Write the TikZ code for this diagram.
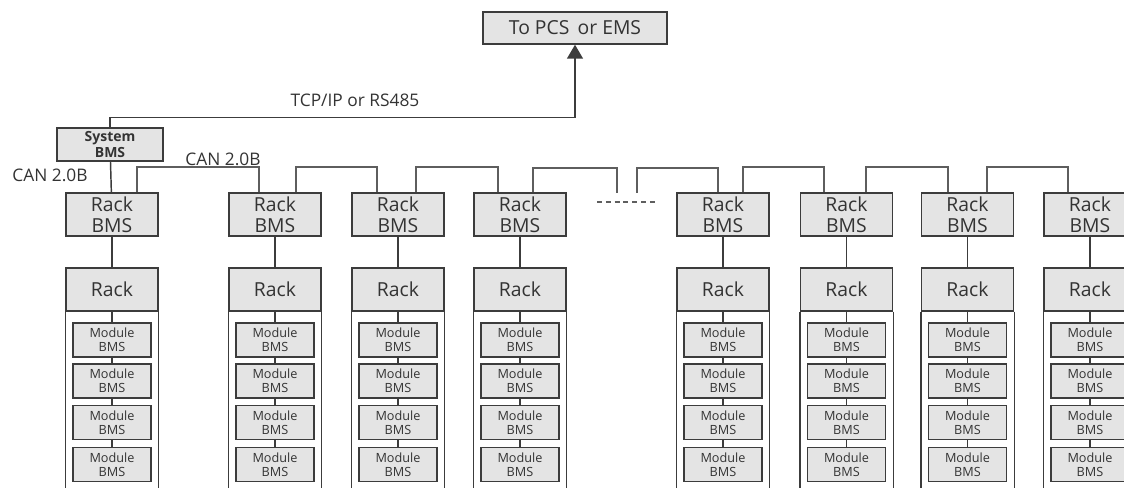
\documentclass[tikz,border=0pt]{standalone}
\usepackage{fontspec}
\setmainfont{Open Sans}
\usetikzlibrary{calc,arrows.meta}
\definecolor{boxfill}{HTML}{E4E4E4}
\definecolor{edge}{HTML}{3C3C3C}
\definecolor{wirecol}{HTML}{5E5E5E}
\definecolor{ink}{HTML}{333333}
\tikzset{
  box/.style={draw=edge,line width=1.1pt,fill=boxfill,inner sep=0pt,align=center,text=ink},
  rackbms/.style={box,minimum width=69pt,minimum height=32.25pt,font=\fontsize{14.5}{15.5}\selectfont},
  rackhead/.style={box,minimum width=69pt,minimum height=32.25pt,font=\fontsize{14.5}{15.5}\selectfont},
  modbms/.style={box,minimum width=58.5pt,minimum height=25.5pt,font=\fontsize{9.5}{10.5}\selectfont},
  wire/.style={draw=edge,line width=1.1pt},
  bus/.style={draw=wirecol,line width=1.5pt},
  lbl/.style={text=ink,inner sep=0pt,font=\fontsize{13}{14}\selectfont}
}
\begin{document}
\begin{tikzpicture}[x=0.75pt,y=0.75pt,yscale=-1,xscale=1]
\useasboundingbox (0,0) rectangle (1124,488);
% Top boxes
\node[box,minimum width=138pt,minimum height=24pt,font=\fontsize{14.5}{16}\selectfont] (pcs) at (575,28) {To PCS \,or EMS};
\node[box,minimum width=79.5pt,minimum height=24.75pt,font=\bfseries\fontsize{10.5}{11.5}\selectfont] (sys) at (110,144.5) {System\\BMS};
% Text Node
\node[lbl] (tcp) at (355,100) {TCP/IP or RS485};
% Text Node
\node[lbl] (can1) at (50,175) {CAN 2.0B};
% Text Node
\node[lbl] (can2) at (223,159) {CAN 2.0B};
%Uplink
\draw[wire,-{Triangle[width=12pt,length=10.5pt]}] (sys.north) -- ++(0,-10) -| (pcs.south);
% Racks
\foreach \i/\x in {1/112,2/275,3/398,4/520,5/723,6/846.5,7/967.5,8/1090} {
  \node[rackbms] (rb\i) at (\x,214.5) {Rack\\BMS};
  \node[rackhead] (rk\i) at (\x,289.5) {Rack};
  \draw[wire] (rb\i) -- (rk\i);
  \draw[wire] (rk\i.south west) -- ++(0,180);
  \draw[wire] (rk\i.south east) -- ++(0,180);
  \foreach \j/\y in {1/340,2/381,3/422.5,4/464.5}
    \node[modbms] (m\i-\j) at (\x,\y) {Module\\BMS};
  \draw[wire] (rk\i) -- (m\i-1) -- (m\i-2) -- (m\i-3) -- (m\i-4);
}
\draw[wire] (sys) -- (rb1);
%CAN bus
\coordinate (gapl) at (617,193);
\coordinate (gapr) at (637,193);
\coordinate (dotl) at (597,202);
\coordinate (dotr) at (658,202);
\draw[bus] ($(rb1.north west)+(72,0)$) |- ($(rb2.north west)+(31,-25)$) -- ++(0,25);
\draw[bus] ($(rb2.north west)+(68,0)$) |- ($(rb3.north west)+(26,-25)$) -- ++(0,25);
\draw[bus] ($(rb3.north west)+(65,0)$) |- ($(rb4.north west)+(25,-25)$) -- ++(0,25);
\draw[bus] ($(rb4.north west)+(60,0)$) |- ($(gapl)+(0,-25)$) -- (gapl);
\draw[bus] (gapr) -- ++(0,-25) -| ($(rb5.north west)+(42,0)$);
\draw[bus] ($(rb5.north west)+(67,0)$) |- ($(rb6.north west)+(24,-25)$) -- ++(0,25);
\draw[bus] ($(rb6.north west)+(66,0)$) |- ($(rb7.north west)+(27,-25)$) -- ++(0,25);
\draw[bus] ($(rb7.north west)+(66,0)$) |- ($(rb8.north west)+(25,-25)$) -- ++(0,25);
\draw[draw=wirecol,line width=0.9pt,dash pattern=on 3.75pt off 2.85pt] (dotl) -- (dotr);
\end{tikzpicture}
\end{document}
